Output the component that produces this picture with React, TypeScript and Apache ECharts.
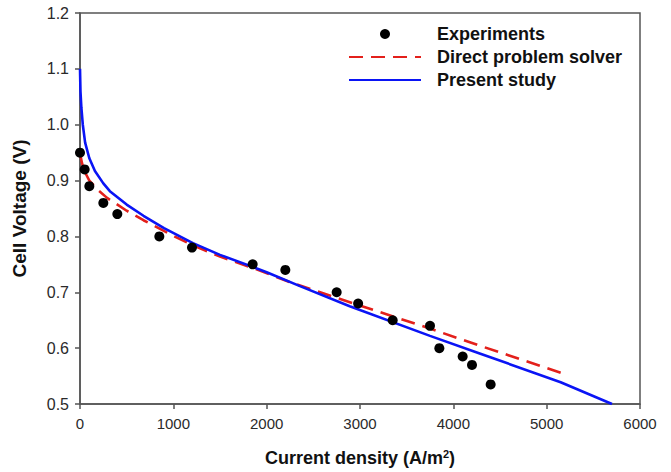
import React, { useEffect, useRef } from "react";
import * as echarts from "echarts";

const experiments: [number, number][] = [
  [0, 0.95], [50, 0.92], [100, 0.89], [250, 0.86], [400, 0.84], [850, 0.8],
  [1200, 0.78], [1850, 0.75], [2200, 0.74], [2750, 0.7], [2980, 0.68],
  [3350, 0.65], [3750, 0.64], [3850, 0.6], [4100, 0.585], [4200, 0.57], [4400, 0.535],
];

const directSolver: [number, number][] = [
  [0, 0.95], [20, 0.932], [50, 0.916], [100, 0.9], [200, 0.882], [290, 0.869],
  [500, 0.846], [680, 0.829], [1000, 0.801], [1210, 0.784], [1500, 0.764],
  [1860, 0.743], [2250, 0.718], [2750, 0.69], [3750, 0.635], [4290, 0.604], [5150, 0.556],
];

const presentStudy: [number, number][] = [
  [0, 1.1], [5, 1.06], [15, 1.03], [30, 1.0], [55, 0.968], [100, 0.94], [160, 0.917],
  [250, 0.895], [320, 0.881], [500, 0.857], [680, 0.837], [900, 0.815], [1210, 0.788],
  [1500, 0.767], [2000, 0.736], [2357, 0.711], [2890, 0.675], [3750, 0.622],
  [4290, 0.59], [5150, 0.539], [5700, 0.5],
];

const seriesNames = ["Experiments", "Direct problem solver", "Present study"];

export default function App() {
  const ref = useRef<HTMLDivElement>(null);
  useEffect(() => {
    document.body.style.margin = "0";
    const chart = echarts.init(ref.current!, null, { renderer: "svg" });
    const font = "'Liberation Sans', Arial, sans-serif";
    const noSymbol = { color: "rgba(0,0,0,0)", borderWidth: 0 };
    chart.setOption({
      animation: false,
      backgroundColor: "#ffffff",
      textStyle: { fontFamily: font },
      grid: {
        left: 80, right: 31, top: 13, bottom: 66,
        show: true, borderColor: "#555", borderWidth: 1.5, backgroundColor: "transparent",
      },
      legend: {
        left: 348, top: 25, orient: "vertical", padding: 0,
        itemWidth: 72, itemHeight: 10, itemGap: 5,
        data: [
          { name: seriesNames[0] },
          { name: seriesNames[1], itemStyle: noSymbol },
          { name: seriesNames[2], itemStyle: noSymbol },
        ],
        textStyle: { fontFamily: font, fontSize: 18, fontWeight: "bold", color: "#111", padding: [0, 0, 0, 11] },
      },
      xAxis: {
        type: "value", min: 0, max: 6000, interval: 1000,
        name: "{t|Current density (A/m}{s|2}{t|)}",
        nameLocation: "middle", nameGap: 44,
        nameTextStyle: {
          rich: {
            t: { fontFamily: font, fontSize: 18, fontWeight: "bold", color: "#111" },
            s: { fontFamily: font, fontSize: 11, fontWeight: "bold", color: "#111", verticalAlign: "top", padding: [0, 0, 9, 0] },
          },
        },
        axisLine: { lineStyle: { color: "#555", width: 1.5 } },
        axisTick: { show: true, inside: false, length: 5, lineStyle: { color: "#555", width: 1.5 } },
        axisLabel: { fontSize: 15, color: "#2a2a2a", margin: 12, fontFamily: font, formatter: (v: number) => String(v) },
        splitLine: { show: false },
      },
      yAxis: {
        type: "value", min: 0.5, max: 1.2, interval: 0.1,
        name: "Cell Voltage (V)", nameLocation: "middle", nameGap: 51,
        nameTextStyle: { fontFamily: font, fontSize: 19, fontWeight: "bold", color: "#111" },
        axisLine: { show: true, lineStyle: { color: "#555", width: 1.5 } },
        axisTick: { show: true, inside: false, length: 5, lineStyle: { color: "#555", width: 1.5 } },
        axisLabel: { fontSize: 16, color: "#2a2a2a", margin: 11, fontFamily: font, formatter: (v: number) => v.toFixed(1) },
        splitLine: { show: false },
      },
      series: [
        {
          name: seriesNames[0], type: "scatter", data: experiments,
          symbol: "circle", symbolSize: 10, itemStyle: { color: "#000", opacity: 1 }, z: 5,
        },
        {
          name: seriesNames[1], type: "line", data: directSolver, symbol: "none",
          lineStyle: { color: "#e3201b", width: 2.6, type: [14, 8] }, itemStyle: { color: "#e3201b" }, z: 3,
        },
        {
          name: seriesNames[2], type: "line", data: presentStudy, symbol: "none",
          lineStyle: { color: "#0a14f5", width: 2.6 }, itemStyle: { color: "#0a14f5" }, z: 4,
        },
      ],
    });
    return () => chart.dispose();
  }, []);
  return <div ref={ref} style={{ width: 671, height: 472 }} />;
}
